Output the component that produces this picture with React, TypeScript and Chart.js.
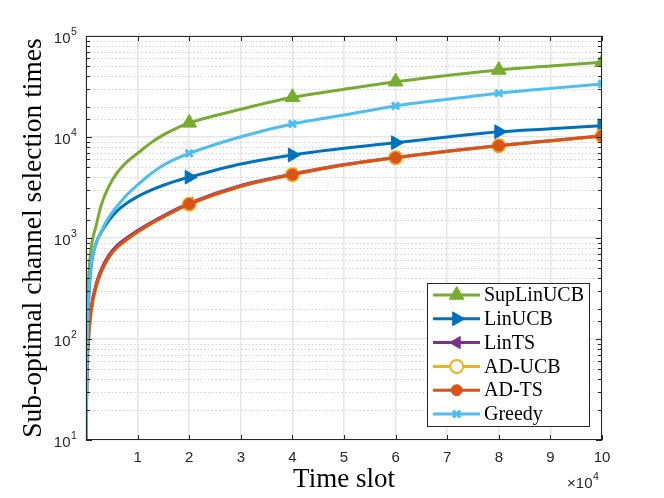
import { useEffect, useRef } from "react"
import Chart from "chart.js/auto"
import { drawPoint } from "chart.js/helpers"

// time slots (x axis shown in units of 1e4)
const timeSlot = [
	0, 200, 500, 1000, 2000, 3000, 4500, 6000, 8000, 10000, 12500, 15000, 17500, 20000,
	30000, 40000, 50000, 60000, 70000, 80000, 90000, 100000,
]
const markerSlots = [20000, 40000, 60000, 80000, 100000]
const xTickValues = [1, 2, 3, 4, 5, 6, 7, 8, 9, 10]
const yDecades = [1, 2, 3, 4, 5]

const supLinUCB = [
	10, 150, 400, 800, 1350, 2150, 3300, 4400, 5700, 6900, 8700, 10500, 12200, 13800,
	18800, 24700, 29700, 35300, 40700, 46100, 50500, 54900,
]
const linUCB = [
	10, 60, 230, 520, 900, 1150, 1500, 1850, 2230, 2570, 2960, 3330, 3680, 4000,
	5400, 6640, 7730, 8790, 10000, 11270, 12080, 12940,
]
const linTS = [
	10, 55, 110, 205, 355, 495, 685, 840, 1010, 1185, 1415, 1660, 1930, 2220,
	3320, 4300, 5330, 6280, 7240, 8230, 9200, 10250,
]
const adUCB = [
	10, 48, 98, 185, 330, 465, 650, 800, 965, 1140, 1370, 1610, 1880, 2160,
	3240, 4230, 5270, 6230, 7200, 8190, 9170, 10220,
]
const adTS = [
	10, 50, 100, 190, 335, 470, 655, 805, 975, 1150, 1380, 1620, 1890, 2170,
	3250, 4240, 5280, 6240, 7210, 8200, 9180, 10230,
]
const greedy = [
	10, 65, 250, 550, 900, 1180, 1620, 2050, 2700, 3350, 4300, 5250, 6100, 6890,
	10070, 13460, 16500, 20300, 23600, 27100, 30300, 33500,
]

const AXIS = "#262626"
const SANS = "'Liberation Sans', Arial, Helvetica, sans-serif"
const SERIF = "'Liberation Serif', 'Times New Roman', serif"

type Series = {
	label: string
	data: number[]
	color: string
	pointStyle: "triangle" | "circle" | "crossRot"
	rotation: number
	radius: number
	filled: boolean
	markerBorder: number
}

const series: Series[] = [
	{ label: "SupLinUCB", data: supLinUCB, color: "#77AC30", pointStyle: "triangle", rotation: 0, radius: 8.5, filled: true, markerBorder: 1 },
	{ label: "LinUCB", data: linUCB, color: "#0072BD", pointStyle: "triangle", rotation: 90, radius: 8, filled: true, markerBorder: 1 },
	{ label: "LinTS", data: linTS, color: "#7E2F8E", pointStyle: "triangle", rotation: -90, radius: 7, filled: true, markerBorder: 1 },
	{ label: "AD-UCB", data: adUCB, color: "#EDB120", pointStyle: "circle", rotation: 0, radius: 6.5, filled: false, markerBorder: 2 },
	{ label: "AD-TS", data: adTS, color: "#D95319", pointStyle: "circle", rotation: 0, radius: 5.5, filled: true, markerBorder: 1 },
	{ label: "Greedy", data: greedy, color: "#4DBEEE", pointStyle: "crossRot", rotation: 0, radius: 5, filled: false, markerBorder: 3 },
]

const isDecade = (v: number) => Math.abs(Math.log10(v) - Math.round(Math.log10(v))) < 1e-9

// dotted minor grid under the data
const minorGrid = {
	id: "minorGrid",
	beforeDatasetsDraw(chart: any) {
		const { ctx, chartArea: a, scales } = chart
		ctx.save()
		ctx.strokeStyle = "#cdcdcd"
		ctx.lineWidth = 1
		ctx.setLineDash([1.3, 2.4])
		ctx.beginPath()
		for (const t of scales.y.ticks) {
			if (isDecade(t.value)) continue
			const py = Math.round(scales.y.getPixelForValue(t.value)) + 0.5
			ctx.moveTo(a.left, py)
			ctx.lineTo(a.right, py)
		}
		ctx.stroke()
		ctx.restore()
	},
}

// box, inner ticks, y labels with exponents, x multiplier and legend
const matlabFrame = {
	id: "matlabFrame",
	afterDatasetsDraw(chart: any) {
		const { ctx, chartArea: a, scales } = chart
		const xs = scales.x
		const ys = scales.y
		ctx.save()
		ctx.strokeStyle = AXIS
		ctx.lineWidth = 1
		ctx.strokeRect(a.left + 0.5, a.top + 0.5, a.right - a.left - 1, a.bottom - a.top - 1)

		ctx.beginPath()
		for (const v of xTickValues) {
			const px = Math.round(xs.getPixelForValue(v * 10000)) + 0.5
			ctx.moveTo(px, a.bottom)
			ctx.lineTo(px, a.bottom - 5)
			ctx.moveTo(px, a.top)
			ctx.lineTo(px, a.top + 5)
		}
		for (const t of ys.ticks) {
			const py = Math.round(ys.getPixelForValue(t.value)) + 0.5
			const len = isDecade(t.value) ? 6 : 4
			ctx.moveTo(a.left, py)
			ctx.lineTo(a.left + len, py)
			ctx.moveTo(a.right, py)
			ctx.lineTo(a.right - len, py)
		}
		ctx.stroke()

		ctx.fillStyle = AXIS
		for (const e of yDecades) {
			const py = ys.getPixelForValue(10 ** e)
			ctx.font = `15px ${SANS}`
			ctx.textAlign = "right"
			ctx.textBaseline = "middle"
			ctx.fillText("10", 70.5, py + 3)
			ctx.font = `10.5px ${SANS}`
			ctx.textAlign = "left"
			ctx.fillText(String(e), 71, py - 3.5)
		}
		ctx.font = `15px ${SANS}`
		ctx.textAlign = "right"
		ctx.fillText("\u00d710", 592.5, 483.5)
		ctx.font = `10.5px ${SANS}`
		ctx.textAlign = "left"
		ctx.fillText("4", 593, 477)

		// legend
		const lx = 427.5
		const ly = 283.5
		ctx.fillStyle = "#ffffff"
		ctx.fillRect(lx, ly, 162, 143)
		ctx.strokeStyle = AXIS
		ctx.lineWidth = 1
		ctx.strokeRect(lx, ly, 162, 143)
		series.forEach((s, i) => {
			const y = 295 + i * 23.8
			ctx.strokeStyle = s.color
			ctx.lineWidth = 3
			ctx.beginPath()
			ctx.moveTo(433, y)
			ctx.lineTo(480, y)
			ctx.stroke()
			ctx.fillStyle = s.filled ? s.color : "#ffffff"
			ctx.strokeStyle = s.color
			ctx.lineWidth = s.markerBorder
			drawPoint(ctx, { pointStyle: s.pointStyle, rotation: s.rotation, radius: s.radius, borderWidth: s.markerBorder }, 456.7, y)
			ctx.fillStyle = "#000000"
			ctx.font = `20px ${SERIF}`
			ctx.textAlign = "left"
			ctx.textBaseline = "middle"
			ctx.fillText(s.label, 484, y + 1)
		})
		ctx.restore()
	},
}

export default function App() {
	const canvasRef = useRef<HTMLCanvasElement>(null)

	useEffect(() => {
		const canvas = canvasRef.current
		if (!canvas) return

		const chart = new Chart(canvas, {
			type: "line",
			data: {
				datasets: series.map((s, i) => ({
					label: s.label,
					data: timeSlot.map((t, k) => ({ x: t, y: s.data[k] })),
					borderColor: s.color,
					backgroundColor: s.filled ? s.color : "rgba(255,255,255,0)",
					borderWidth: 3,
					cubicInterpolationMode: "monotone" as const,
					pointStyle: s.pointStyle,
					pointRotation: s.rotation,
					pointRadius: (c: any) => (markerSlots.includes(c.raw?.x) ? s.radius : 0),
					pointBorderWidth: s.markerBorder,
					pointBorderColor: s.color,
					pointBackgroundColor: s.filled ? s.color : "rgba(255,255,255,0)",
					order: series.length - 1 - i,
				})),
			},
			options: {
				responsive: false,
				animation: false,
				layout: { padding: { left: 0, top: 36, right: 62, bottom: 0 } },
				plugins: { legend: { display: false }, tooltip: { enabled: false } },
				scales: {
					x: {
						type: "linear",
						min: 0,
						max: 100000,
						afterFit: (scale: any) => {
							scale.height = 58
						},
						ticks: {
							stepSize: 10000,
							autoSkip: false,
							maxRotation: 0,
							padding: 9,
							color: AXIS,
							font: { family: SANS, size: 15 },
							callback: (v: any) => (v === 0 ? "" : String(v / 10000)),
						},
						grid: { color: "#e6e6e6", lineWidth: 1.5, drawTicks: false },
						border: { display: false },
						title: {
							display: true,
							text: "Time slot",
							color: "#000000",
							font: { family: SERIF, size: 27 },
							padding: { top: 0, bottom: 2 },
						},
					},
					y: {
						type: "logarithmic",
						min: 10,
						max: 100000,
						afterFit: (scale: any) => {
							scale.width = 86
						},
						ticks: { display: false, autoSkip: false },
						grid: {
							drawTicks: false,
							lineWidth: 1.5,
							color: (c: any) => (c.tick && !isDecade(c.tick.value) ? "rgba(0,0,0,0)" : "#e6e6e6"),
						},
						border: { display: false },
						title: {
							display: true,
							text: "Sub-optimal channel selection times",
							color: "#000000",
							font: { family: SERIF, size: 27.5 },
							padding: { top: 17, bottom: 0 },
						},
					},
				},
			},
			plugins: [minorGrid, matlabFrame],
		})

		return () => chart.destroy()
	}, [])

	return (
		<div style={{ position: "absolute", left: 0, top: 0, width: 664, height: 498, background: "#ffffff" }}>
			<canvas ref={canvasRef} width={664} height={498} style={{ display: "block" }} />
		</div>
	)
}
